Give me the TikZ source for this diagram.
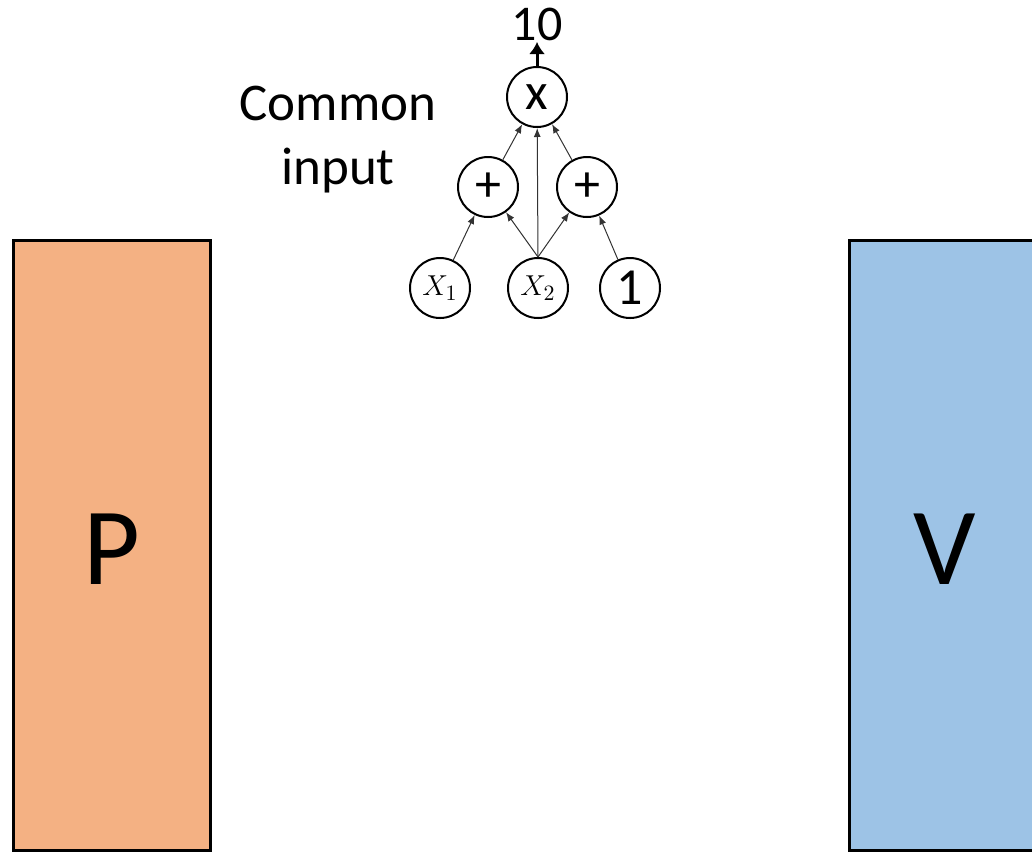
\documentclass[tikz,border=0pt]{standalone}
\usepackage{fontspec}
\setmainfont{Carlito}
\usetikzlibrary{arrows.meta}

\definecolor{porange}{HTML}{F4B183}
\definecolor{vblue}{HTML}{9DC3E6}

\begin{document}
\begin{tikzpicture}[x=0.5pt,y=-0.5pt,
        gate/.style={draw, circle, line width=1pt, minimum size=30pt, inner sep=0pt,
            font=\fontsize{26}{26}\selectfont},
        wire/.style={line width=0.5pt, black!80, -{Latex[length=4.5pt,width=3.5pt]}},
        panel/.style={draw, line width=1.5pt}]

            \clip (0,0) rectangle (1032,853);

            % the two side panels
            \draw[panel, fill=porange] (13,240) rectangle (210,850);
            \draw[panel, fill=vblue] (849,240) rectangle (1045,850);
            \node[font=\fontsize{55}{55}\selectfont] (p) at (112,549) {P};
            \node[font=\fontsize{55}{55}\selectfont] (v) at (945,549) {V};

            % small circuit
            \node[gate] (mult) at (537,97) {x};
            \node[gate] (pl) at (488,187) {+};
            \node[gate] (pr) at (587,187) {+};
            \node[gate, font=\fontsize{15}{15}\selectfont] (x1) at (440,288) {$X_1$};
            \node[gate, font=\fontsize{15}{15}\selectfont] (x2) at (538,288) {$X_2$};
            \node[gate] (one) at (630,288) {1};

            \draw[wire] (x1) -- (pl);
            \draw[wire] (x2.north) -- (pl);
            \draw[wire] (x2.north) -- (mult);
            \draw[wire] (x2.north) -- (pr);
            \draw[wire] (one) -- (pr);
            \draw[wire] (pl) -- (mult);
            \draw[wire] (pr) -- (mult);

            \coordinate (top) at (537,42);
            \draw[line width=1.5pt, -{Latex[length=6pt,width=8pt]}] (mult) -- (top);
            \node[font=\fontsize{25}{25}\selectfont, above, inner sep=0.5pt] (val) at (top) {10};

            \node[align=center, font=\fontsize{26.5}{32}\selectfont] (common) at (338,140)
            {Common\\input};

        \end{tikzpicture}
\end{document}
